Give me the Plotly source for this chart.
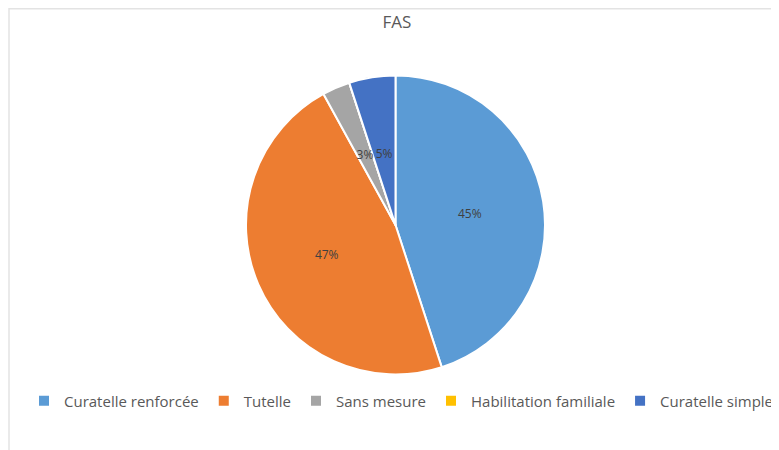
import plotly.graph_objects as go

categories = ["Curatelle renforcée", "Tutelle", "Sans mesure", "Habilitation familiale", "Curatelle simple"]
values = [45, 47, 3, 0, 5]
colors = ["#5B9BD5", "#ED7D31", "#A5A5A5", "#FFC000", "#4472C4"]

total = sum(values)
pct = [f"{round(v / total * 100)}%" if v > 0 else "" for v in values]
big = [t if v / total >= 0.1 else "" for t, v in zip(pct, values)]
small = [t if v / total < 0.1 else "" for t, v in zip(pct, values)]

# page is offset by the body's 8px margin
W, H = 771, 442
cx, cy, r = 387.5, 217, 149.5
r2 = 84

def dom(rad):
    return dict(x=[(cx - rad) / W, (cx + rad) / W], y=[(H - cy - rad) / H, (H - cy + rad) / H])

label_font = dict(family="Open Sans", size=12, color="#404040")

fig = go.Figure()
fig.add_trace(go.Pie(
    labels=categories,
    values=values,
    text=big,
    textinfo="text",
    textposition="inside",
    insidetextorientation="horizontal",
    textfont=label_font,
    marker=dict(colors=colors, line=dict(color="white", width=2)),
    sort=False,
    direction="clockwise",
    rotation=0,
    hoverinfo="label+percent",
    domain=dom(r),
))
fig.add_trace(go.Pie(
    labels=categories,
    values=values,
    text=small,
    textinfo="text",
    textposition="inside",
    insidetextorientation="horizontal",
    textfont=label_font,
    marker=dict(colors=["rgba(0,0,0,0)"] * len(values), line=dict(width=0)),
    sort=False,
    direction="clockwise",
    rotation=0,
    hoverinfo="skip",
    showlegend=False,
    domain=dom(r2),
))

fig.update_layout(
    width=W, height=H,
    margin=dict(l=0, r=0, t=0, b=0),
    paper_bgcolor="white",
    title=dict(text="FAS", x=(cx + 1.5) / W, xanchor="center", y=1 - 14 / H, yanchor="middle",
               font=dict(family="Open Sans", size=17, color="#595959")),
    uniformtext=dict(mode="show", minsize=12),
    legend=dict(orientation="h", x=25 / W, xanchor="left", y=1 - 393 / H, yanchor="middle",
                font=dict(family="Open Sans", size=15, color="#595959"),
                traceorder="normal", itemwidth=30, bgcolor="rgba(0,0,0,0)"),
    shapes=[dict(type="rect", xref="paper", yref="paper",
                 x0=1 / W, x1=1.05, y0=-0.05, y1=1 - 0.75 / H,
                 line=dict(color="#E3E3E3", width=1.5), fillcolor="rgba(0,0,0,0)", layer="below")],
)

fig.write_html("out.html")
